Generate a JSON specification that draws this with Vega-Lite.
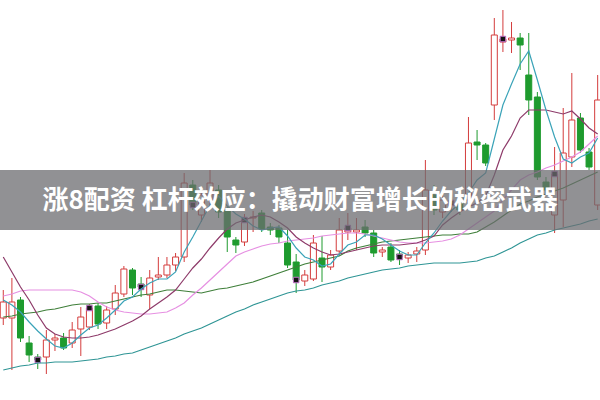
{
"$schema": "https://vega.github.io/schema/vega-lite/v6.json",
"width": 600, "height": 400, "padding": 0, "autosize": {"type": "none"},
"background": "white",
"config": {"view": {"stroke": null}},
"data": {"values": [
{"i":0,"o":10.24,"h":10.52,"l":10.17,"c":10.40,"m5":10.42,"m10":10.85,"m20":10.46,"m30":10.25,"m60":9.72},
{"i":1,"o":10.24,"h":10.64,"l":9.72,"c":10.40,"m5":10.37,"m10":10.70,"m20":10.48,"m30":10.26,"m60":9.74},
{"i":2,"o":10.42,"h":10.45,"l":10.00,"c":10.04,"m5":10.30,"m10":10.55,"m20":10.51,"m30":10.28,"m60":9.76},
{"i":3,"o":9.99,"h":10.06,"l":9.80,"c":9.87,"m5":10.20,"m10":10.42,"m20":10.52,"m30":10.29,"m60":9.77},
{"i":4,"o":9.85,"h":9.88,"l":9.73,"c":9.82,"m5":10.11,"m10":10.27,"m20":10.52,"m30":10.30,"m60":9.79,"mk":true},
{"i":5,"o":9.85,"h":10.12,"l":9.68,"c":10.02,"m5":10.03,"m10":10.14,"m20":10.52,"m30":10.32,"m60":9.79},
{"i":6,"o":10.02,"h":10.08,"l":9.91,"c":10.04,"m5":9.96,"m10":10.08,"m20":10.52,"m30":10.33,"m60":9.80},
{"i":7,"o":10.04,"h":10.09,"l":9.92,"c":9.94,"m5":9.94,"m10":10.05,"m20":10.52,"m30":10.35,"m60":9.80},
{"i":8,"o":9.99,"h":10.20,"l":9.94,"c":10.12,"m5":9.99,"m10":10.04,"m20":10.52,"m30":10.37,"m60":9.80},
{"i":9,"o":10.13,"h":10.35,"l":9.86,"c":10.25,"m5":10.07,"m10":10.04,"m20":10.50,"m30":10.38,"m60":9.81},
{"i":10,"o":10.15,"h":10.38,"l":10.12,"c":10.34,"m5":10.14,"m10":10.05,"m20":10.46,"m30":10.38,"m60":9.82,"mk":true},
{"i":11,"o":10.36,"h":10.39,"l":10.13,"c":10.18,"m5":10.17,"m10":10.07,"m20":10.40,"m30":10.39,"m60":9.83},
{"i":12,"o":10.19,"h":10.36,"l":10.13,"c":10.32,"m5":10.24,"m10":10.10,"m20":10.35,"m30":10.39,"m60":9.85},
{"i":13,"o":10.33,"h":10.57,"l":10.27,"c":10.49,"m5":10.32,"m10":10.13,"m20":10.32,"m30":10.41,"m60":9.86},
{"i":14,"o":10.48,"h":10.76,"l":10.45,"c":10.73,"m5":10.41,"m10":10.17,"m20":10.30,"m30":10.43,"m60":9.88},
{"i":15,"o":10.72,"h":10.74,"l":10.47,"c":10.54,"m5":10.45,"m10":10.21,"m20":10.29,"m30":10.45,"m60":9.89},
{"i":16,"o":10.58,"h":10.65,"l":10.45,"c":10.55,"m5":10.53,"m10":10.26,"m20":10.28,"m30":10.47,"m60":9.92,"mk":true},
{"i":17,"o":10.47,"h":10.72,"l":10.33,"c":10.64,"m5":10.59,"m10":10.33,"m20":10.28,"m30":10.48,"m60":9.95},
{"i":18,"o":10.65,"h":10.85,"l":10.62,"c":10.67,"m5":10.63,"m10":10.39,"m20":10.29,"m30":10.50,"m60":9.98},
{"i":19,"o":10.67,"h":10.85,"l":10.64,"c":10.77,"m5":10.63,"m10":10.45,"m20":10.30,"m30":10.52,"m60":10.01},
{"i":20,"o":10.77,"h":10.89,"l":10.71,"c":10.85,"m5":10.70,"m10":10.52,"m20":10.34,"m30":10.52,"m60":10.04},
{"i":21,"o":10.85,"h":11.69,"l":10.80,"c":11.59,"m5":10.90,"m10":10.63,"m20":10.39,"m30":10.51,"m60":10.08},
{"i":22,"o":11.57,"h":11.62,"l":11.32,"c":11.37,"m5":11.05,"m10":10.74,"m20":10.47,"m30":10.50,"m60":10.11,"mk":true},
{"i":23,"o":11.27,"h":11.54,"l":11.20,"c":11.47,"m5":11.21,"m10":10.83,"m20":10.54,"m30":10.49,"m60":10.14},
{"i":24,"o":11.42,"h":11.72,"l":11.35,"c":11.59,"m5":11.37,"m10":10.94,"m20":10.62,"m30":10.51,"m60":10.18},
{"i":25,"o":11.52,"h":11.57,"l":11.24,"c":11.30,"m5":11.46,"m10":11.04,"m20":10.70,"m30":10.53,"m60":10.22},
{"i":26,"o":11.32,"h":11.35,"l":10.90,"c":11.05,"m5":11.36,"m10":11.13,"m20":10.78,"m30":10.54,"m60":10.26},
{"i":27,"o":11.02,"h":11.05,"l":10.89,"c":10.97,"m5":11.28,"m10":11.19,"m20":10.86,"m30":10.56,"m60":10.30},
{"i":28,"o":11.00,"h":11.28,"l":10.96,"c":11.22,"m5":11.23,"m10":11.22,"m20":10.90,"m30":10.58,"m60":10.33,"mk":true},
{"i":29,"o":11.24,"h":11.31,"l":11.10,"c":11.25,"m5":11.16,"m10":11.25,"m20":10.93,"m30":10.60,"m60":10.37},
{"i":30,"o":11.29,"h":11.32,"l":11.10,"c":11.13,"m5":11.12,"m10":11.27,"m20":10.96,"m30":10.63,"m60":10.40},
{"i":31,"o":11.15,"h":11.19,"l":11.07,"c":11.12,"m5":11.14,"m10":11.25,"m20":10.98,"m30":10.66,"m60":10.43},
{"i":32,"o":11.14,"h":11.17,"l":10.99,"c":11.05,"m5":11.15,"m10":11.20,"m20":10.99,"m30":10.69,"m60":10.46},
{"i":33,"o":10.99,"h":11.12,"l":10.74,"c":10.77,"m5":11.06,"m10":11.14,"m20":11.01,"m30":10.72,"m60":10.49},
{"i":34,"o":10.80,"h":10.88,"l":10.49,"c":10.62,"m5":10.94,"m10":11.05,"m20":11.02,"m30":10.75,"m60":10.51,"mk":true},
{"i":35,"o":10.61,"h":10.72,"l":10.56,"c":10.67,"m5":10.85,"m10":10.99,"m20":11.03,"m30":10.78,"m60":10.52},
{"i":36,"o":10.63,"h":11.07,"l":10.61,"c":10.99,"m5":10.82,"m10":10.94,"m20":11.04,"m30":10.80,"m60":10.54},
{"i":37,"o":10.84,"h":11.06,"l":10.60,"c":10.75,"m5":10.76,"m10":10.90,"m20":11.06,"m30":10.82,"m60":10.57},
{"i":38,"o":10.75,"h":10.92,"l":10.72,"c":10.87,"m5":10.78,"m10":10.87,"m20":11.07,"m30":10.84,"m60":10.59},
{"i":39,"o":10.91,"h":11.24,"l":10.87,"c":11.12,"m5":10.88,"m10":10.88,"m20":11.08,"m30":10.86,"m60":10.61},
{"i":40,"o":11.10,"h":11.29,"l":11.02,"c":11.14,"m5":10.97,"m10":10.90,"m20":11.09,"m30":10.91,"m60":10.64,"mk":true},
{"i":41,"o":11.10,"h":11.24,"l":10.92,"c":11.12,"m5":11.00,"m10":10.92,"m20":11.09,"m30":10.94,"m60":10.66},
{"i":42,"o":11.15,"h":11.22,"l":11.05,"c":11.09,"m5":11.07,"m10":10.94,"m20":11.08,"m30":10.96,"m60":10.68},
{"i":43,"o":11.09,"h":11.12,"l":10.85,"c":10.89,"m5":11.07,"m10":10.96,"m20":11.06,"m30":10.98,"m60":10.70},
{"i":44,"o":10.90,"h":10.95,"l":10.85,"c":10.92,"m5":11.03,"m10":10.97,"m20":11.04,"m30":11.00,"m60":10.72},
{"i":45,"o":10.95,"h":10.99,"l":10.80,"c":10.82,"m5":10.97,"m10":10.97,"m20":11.02,"m30":11.01,"m60":10.73},
{"i":46,"o":10.88,"h":10.92,"l":10.77,"c":10.85,"m5":10.91,"m10":10.97,"m20":11.00,"m30":11.02,"m60":10.74,"mk":true},
{"i":47,"o":10.84,"h":10.90,"l":10.79,"c":10.87,"m5":10.87,"m10":10.98,"m20":10.99,"m30":11.03,"m60":10.76},
{"i":48,"o":10.88,"h":10.95,"l":10.80,"c":10.91,"m5":10.87,"m10":10.99,"m20":10.99,"m30":11.04,"m60":10.77},
{"i":49,"o":10.92,"h":11.82,"l":10.87,"c":11.52,"m5":10.99,"m10":11.02,"m20":10.99,"m30":11.05,"m60":10.78},
{"i":50,"o":11.47,"h":11.57,"l":11.27,"c":11.32,"m5":11.09,"m10":11.06,"m20":11.00,"m30":11.06,"m60":10.79},
{"i":51,"o":11.30,"h":11.47,"l":11.24,"c":11.42,"m5":11.21,"m10":11.17,"m20":11.01,"m30":11.07,"m60":10.79},
{"i":52,"o":11.37,"h":11.47,"l":11.30,"c":11.39,"m5":11.31,"m10":11.24,"m20":11.03,"m30":11.07,"m60":10.79,"mk":true},
{"i":53,"o":11.42,"h":11.47,"l":11.27,"c":11.32,"m5":11.39,"m10":11.30,"m20":11.07,"m30":11.08,"m60":10.79},
{"i":54,"o":11.42,"h":12.25,"l":11.37,"c":11.99,"m5":11.49,"m10":11.35,"m20":11.13,"m30":11.08,"m60":10.80},
{"i":55,"o":12.00,"h":12.12,"l":11.82,"c":11.97,"m5":11.62,"m10":11.39,"m20":11.19,"m30":11.10,"m60":10.81},
{"i":56,"o":11.97,"h":11.99,"l":11.76,"c":11.79,"m5":11.69,"m10":11.46,"m20":11.25,"m30":11.15,"m60":10.84},
{"i":57,"o":12.37,"h":13.24,"l":12.22,"c":13.07,"m5":12.03,"m10":11.67,"m20":11.31,"m30":11.20,"m60":10.86},
{"i":58,"o":13.00,"h":13.32,"l":12.90,"c":13.03,"m5":12.37,"m10":11.92,"m20":11.42,"m30":11.26,"m60":10.90,"mk":true},
{"i":59,"o":13.02,"h":13.20,"l":12.89,"c":13.04,"m5":12.58,"m10":12.06,"m20":11.52,"m30":11.32,"m60":10.94},
{"i":60,"o":13.04,"h":13.09,"l":12.72,"c":12.97,"m5":12.78,"m10":12.24,"m20":11.62,"m30":11.38,"m60":10.99},
{"i":61,"o":12.67,"h":13.09,"l":12.27,"c":12.42,"m5":12.91,"m10":12.32,"m20":11.67,"m30":11.41,"m60":11.03},
{"i":62,"o":12.45,"h":12.50,"l":11.62,"c":11.65,"m5":12.62,"m10":12.32,"m20":11.70,"m30":11.45,"m60":11.07},
{"i":63,"o":11.60,"h":11.65,"l":11.49,"c":11.52,"m5":12.32,"m10":12.32,"m20":11.74,"m30":11.48,"m60":11.09},
{"i":64,"o":11.27,"h":11.95,"l":11.09,"c":11.68,"m5":12.05,"m10":12.30,"m20":11.77,"m30":11.51,"m60":11.12,"mk":true},
{"i":65,"o":11.42,"h":12.34,"l":11.15,"c":11.89,"m5":11.83,"m10":12.28,"m20":11.81,"m30":11.54,"m60":11.14},
{"i":66,"o":11.85,"h":12.69,"l":11.75,"c":12.22,"m5":11.79,"m10":12.31,"m20":11.85,"m30":11.58,"m60":11.16},
{"i":67,"o":12.24,"h":12.29,"l":11.89,"c":11.92,"m5":11.85,"m10":12.23,"m20":11.90,"m30":11.62,"m60":11.18},
{"i":68,"o":11.90,"h":11.94,"l":11.72,"c":11.75,"m5":11.89,"m10":12.14,"m20":11.98,"m30":11.66,"m60":11.21},
{"i":69,"o":11.37,"h":12.67,"l":11.32,"c":12.42,"m5":12.04,"m10":12.08,"m20":12.06,"m30":11.70,"m60":11.23}
]},
"layer": [
{"mark": {"type": "rule", "strokeWidth": 1, "clip": true},
 "encoding": {
  "x": {"field": "i", "type": "quantitative", "scale": {"domain": [0.2, 68.69], "nice": false, "zero": false}, "axis": null},
  "y": {"field": "l", "type": "quantitative", "scale": {"domain": [9.42, 13.42], "nice": false, "zero": false},
        "axis": {"title": null, "labels": false, "ticks": false, "domain": false, "grid": true, "values": [10, 11, 12, 13], "gridDash": [1, 2], "gridColor": "#9a9a9a", "gridWidth": 1}},
  "y2": {"field": "h"},
  "color": {"condition": {"test": "datum.c >= datum.o", "value": "#d43c3c"}, "value": "#1e9b2e"}
 }},
{"mark": {"type": "bar", "width": 6, "strokeWidth": 1, "clip": true},
 "encoding": {
  "x": {"field": "i", "type": "quantitative"},
  "y": {"field": "o", "type": "quantitative", "axis": null},
  "y2": {"field": "c"},
  "fill": {"condition": {"test": "datum.c >= datum.o", "value": "#ffffff"}, "value": "#1e9b2e"},
  "stroke": {"condition": {"test": "datum.c >= datum.o", "value": "#d43c3c"}, "value": "#1e9b2e"}
 }},
{"transform": [{"filter": "datum.mk === true"}],
 "mark": {"type": "point", "shape": "square", "size": 30, "filled": true, "fill": "#141414", "stroke": "#c070c8", "strokeWidth": 1, "opacity": 1, "clip": true},
 "encoding": {
  "x": {"field": "i", "type": "quantitative"},
  "y": {"field": "c", "type": "quantitative", "axis": null}
 }},
{"mark": {"type": "line", "color": "#2f9595", "strokeWidth": 1.2, "clip": true},
 "encoding": {"x": {"field": "i", "type": "quantitative"}, "y": {"field": "m60", "type": "quantitative", "axis": null}}},
{"mark": {"type": "line", "color": "#3f7f3a", "strokeWidth": 1.2, "clip": true},
 "encoding": {"x": {"field": "i", "type": "quantitative"}, "y": {"field": "m30", "type": "quantitative", "axis": null}}},
{"mark": {"type": "line", "color": "#e690e2", "strokeWidth": 1.2, "clip": true},
 "encoding": {"x": {"field": "i", "type": "quantitative"}, "y": {"field": "m20", "type": "quantitative", "axis": null}}},
{"mark": {"type": "line", "color": "#8e3b6a", "strokeWidth": 1.2, "clip": true},
 "encoding": {"x": {"field": "i", "type": "quantitative"}, "y": {"field": "m10", "type": "quantitative", "axis": null}}},
{"mark": {"type": "line", "color": "#3aa3b8", "strokeWidth": 1.2, "clip": true},
 "encoding": {"x": {"field": "i", "type": "quantitative"}, "y": {"field": "m5", "type": "quantitative", "axis": null}}},
{"data": {"values": [{}]},
 "mark": {"type": "rect", "fill": "#6c6c70", "opacity": 0.75, "clip": true},
 "encoding": {"x": {"datum": -5}, "x2": {"datum": 75}, "y": {"datum": 11.72}, "y2": {"datum": 11.12}}},
{"data": {"values": [{}]},
 "mark": {"type": "text", "text": "涨8配资 杠杆效应：撬动财富增长的秘密武器", "color": "#ffffff", "fontSize": 26, "fontWeight": "bold", "font": "Noto Sans CJK SC", "align": "center", "baseline": "middle"},
 "encoding": {"x": {"datum": 34.45}, "y": {"datum": 11.41}}}
]
}
